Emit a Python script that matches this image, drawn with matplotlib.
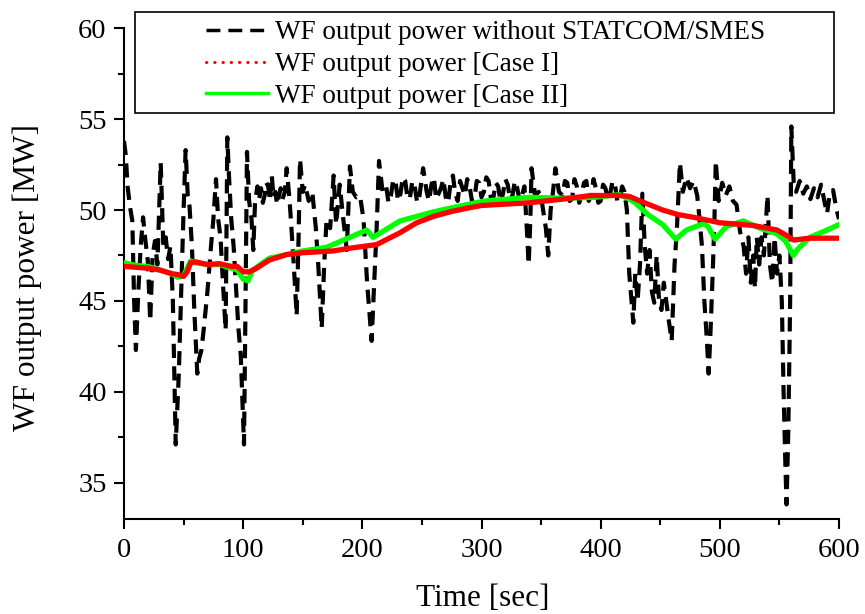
import numpy as np
import matplotlib
matplotlib.use("Agg")
import matplotlib.pyplot as plt
from matplotlib.lines import Line2D
from matplotlib.patches import Rectangle
from matplotlib.ticker import MultipleLocator

plt.rcParams['font.family'] = 'serif'
plt.rcParams['font.serif'] = ['Liberation Serif', 'DejaVu Serif']

# WF output power without STATCOM/SMES
base_t = [0, 1.5, 3, 5, 7, 8.5, 10, 12, 14, 16, 18, 20, 22, 24, 26, 28, 30.8, 33, 35, 37,
          39, 41, 43.4, 46, 48, 50, 51.7, 53.5, 55, 57, 59, 61.5, 63, 65, 67, 70, 73, 75,
          77.2, 79, 81, 83, 85.3, 86.7, 88, 90, 92, 94, 96, 98, 100.7, 102, 103.2, 105,
          107, 108.5, 110, 112, 113.5, 115, 116.5, 118, 119.5, 121, 122.5, 124, 125.5, 127,
          128.5, 130, 131.5, 133, 135, 136.5, 139, 142,
          144.9, 146.5, 147.7, 150, 152, 155, 158, 161, 163, 165.9, 168, 170, 173, 175.9,
          178, 181, 184, 187, 189.6, 192, 195, 198, 201, 204, 207.8, 210, 212, 214, 217,
          220, 222, 224, 226, 228, 230, 232, 234, 236, 238, 240, 242, 244, 246, 248, 251,
          254, 256, 258, 260, 262, 264, 266, 268, 270, 272, 274, 276, 278, 280, 282, 284,
          286, 288, 290, 292, 294, 296, 298, 300, 302, 304, 306, 308, 310, 312, 314, 316,
          318, 320, 322, 324, 326, 328, 330, 332, 334, 336, 338,
          339.6, 341, 342, 345, 348, 351, 354, 356, 358, 360, 362, 365, 368, 370, 372, 374,
          376, 378, 380, 382, 384, 386, 388, 390, 392, 394, 396, 398, 400, 402, 404, 406,
          408, 410, 412, 414, 416, 418, 420, 422, 424, 427.4, 429, 431, 433,
          435, 437, 439, 441, 443, 445, 447, 449, 451, 453, 455, 457, 459.6, 462, 464,
          466.5, 469, 472, 475, 478, 481, 483, 485, 487, 489, 490.6, 492, 494, 495.5,
          496.6, 499, 502, 505, 508, 511, 514, 517, 520, 522, 524, 526, 528, 529.5, 531,
          533, 535, 537, 540, 542, 544, 546, 548, 550, 552, 553.5, 555, 556, 557.5, 559,
          560, 562, 564, 567, 570, 573, 576, 579, 582, 585, 588, 590, 592, 595, 598, 600]
base_p = [53.8, 53.0, 51.3, 50.2, 49.4, 45.0, 42.3, 45.5, 48.0, 49.6, 48.3, 47.2, 43.9, 47.5,
          48.3, 47.0, 52.6, 48.0, 48.5, 47.3, 48.0, 45.0, 37.1, 41.0, 45.5, 50.0, 53.3, 50.8,
          50.2, 48.0, 44.5, 41.0, 41.8, 42.3, 43.5, 45.5, 48.0, 49.5, 51.7, 49.5, 48.5, 46.0,
          43.4, 54.0, 52.0, 49.5, 48.0, 45.8, 43.5, 42.0, 37.1, 45.0, 53.2, 50.5, 49.5, 47.8,
          50.5, 51.3, 50.6, 51.2, 50.4, 50.8, 51.5, 51.3, 50.5, 51.9, 50.7, 51.0, 50.3, 50.8,
          51.2, 50.6, 51.0, 52.3, 50.5, 47.5, 44.2,
          48.5, 52.8, 51.0, 51.4, 50.5, 51.0, 49.0, 47.0, 43.5, 47.0, 49.5, 49.0, 51.9, 49.2,
          51.4, 49.5, 47.8, 52.4, 51.0, 50.7, 50.8, 49.5, 46.0, 42.8, 46.0, 49.0, 52.7, 51.0,
          51.3, 50.4, 50.8, 51.7, 51.5, 50.5, 50.9, 51.8, 51.6, 50.6, 50.7, 51.6, 51.3, 50.4,
          50.8, 52.3, 51.0, 50.5, 51.4, 51.8, 50.6, 50.9, 51.2, 51.7, 50.7, 50.4, 51.5, 51.9,
          50.9, 50.5, 51.6, 51.2, 50.8, 51.7, 51.3, 50.5, 50.6, 51.6, 51.5, 50.7, 51.0, 51.8,
          51.6, 50.6, 50.7, 51.5, 51.3, 50.4, 50.9, 51.7, 51.4, 50.6, 50.8, 51.6, 51.2, 50.5,
          50.8, 51.3, 49.0, 47.0, 49.5, 52.3, 50.8, 51.0, 50.3, 49.0, 47.5, 50.0, 51.0,
          52.3, 51.0, 50.8, 51.6, 51.5, 50.5, 50.6, 51.7, 51.3, 50.4, 50.9, 51.5, 51.6, 50.5,
          50.8, 51.7, 51.2, 50.4, 50.5, 51.4, 51.2, 50.6, 50.9, 51.6, 51.4, 50.5, 50.6, 51.3,
          51.0, 50.0, 46.5, 43.8, 46.5, 45.0, 47.0, 50.9, 48.0, 46.5, 47.8, 45.5, 44.9,
          47.5, 45.0, 44.5, 46.0, 45.0, 44.0, 42.8, 47.0, 49.0, 52.6, 51.0, 51.8, 51.2, 51.6,
          50.8, 49.5, 48.0, 45.0, 43.0, 41.0, 43.0, 46.5, 49.5, 52.7, 50.5, 51.5, 50.8, 51.3,
          50.5, 50.3, 48.8, 48.0, 46.5, 48.5, 46.0, 47.5, 45.7, 48.5, 47.0, 48.5, 47.5, 50.8,
          47.0, 46.0, 48.5, 46.5, 47.5, 45.0, 40.0, 36.0, 33.8, 38.0, 45.0, 54.6, 51.5, 51.0,
          51.6, 50.9, 51.3, 50.6, 51.2, 50.7, 51.4, 50.4, 49.8, 50.8, 51.1, 50.0, 49.5]

# Case I
case1_t = [0, 10, 20, 30, 40, 45, 50, 53, 56, 60, 70, 80, 90, 95, 100, 105, 110, 122, 136.5,
           150, 175.6, 189.6, 212, 231.6, 245.6, 259.6, 273.6, 287.6, 300, 340, 368, 392,
           416, 424, 433, 452, 465, 478, 500, 528, 548, 556, 562, 575, 600]
case1_p = [46.9, 46.85, 46.8, 46.7, 46.5, 46.45, 46.35, 46.6, 47.1, 47.15, 47.0, 47.05, 46.9,
           46.9, 46.6, 46.6, 46.75, 47.25, 47.55, 47.65, 47.75, 47.9, 48.1, 48.75, 49.3,
           49.65, 49.9, 50.1, 50.25, 50.4, 50.6, 50.8, 50.8, 50.75, 50.5, 50.0, 49.75, 49.6,
           49.3, 49.15, 48.9, 48.6, 48.35, 48.45, 48.45]

# Case II
case2_t = [0, 10, 20, 30, 40, 45, 50, 53, 56, 60, 70, 80, 90, 95, 100, 104, 108, 122, 136.5,
           150, 170, 189.6, 203.6, 209, 231.6, 259.6, 287.6, 303, 340, 368, 395, 416, 424,
           429, 439.6, 452, 463, 472, 486, 490, 496, 505.6, 519.6, 533.6, 547.6, 555, 561.6,
           566, 575.6, 590, 600]
case2_p = [47.1, 46.95, 46.9, 46.7, 46.5, 46.3, 46.4, 46.8, 47.2, 47.1, 47.0, 47.0, 46.8,
           46.7, 46.2, 46.1, 46.7, 47.35, 47.55, 47.75, 47.95, 48.5, 48.9, 48.5, 49.4, 49.9,
           50.3, 50.5, 50.7, 50.65, 50.7, 50.85, 50.6, 50.4, 49.75, 49.2, 48.4, 48.9, 49.25,
           49.1, 48.4, 49.1, 49.4, 49.0, 48.7, 48.3, 47.5, 47.9, 48.5, 48.9, 49.2]

labels = ["WF output power without STATCOM/SMES",
          "WF output power [Case I]",
          "WF output power [Case II]"]

fig = plt.figure(figsize=(8.65, 6.14), dpi=100)
ax = fig.add_axes([124 / 865, 95 / 614, 715 / 865, 490.7 / 614])

ax.plot(base_t, base_p, color='black', lw=3.0, dashes=(3.4, 2.0), zorder=2)
ax.plot(case2_t, case2_p, color='#00ff00', lw=3.8, zorder=3)
ax.plot(case1_t, case1_p, color='#ff0000', lw=3.8, zorder=4)

ax.set_xlim(0, 600)
ax.set_ylim(33, 60)
ax.xaxis.set_major_locator(MultipleLocator(100))
ax.xaxis.set_minor_locator(MultipleLocator(50))
ax.yaxis.set_major_locator(MultipleLocator(5))
ax.yaxis.set_minor_locator(MultipleLocator(2.5))
for s in ['top', 'right']:
    ax.spines[s].set_visible(False)
for s in ['left', 'bottom']:
    ax.spines[s].set_linewidth(1.5)
ax.tick_params(which='major', direction='out', length=7.5, width=1.5, labelsize=20.5, pad=5)
ax.tick_params(which='minor', direction='out', length=4.3, width=1.5)
ax.tick_params(axis='x', which='major', pad=6)

ax.set_xlabel("Time [sec]", fontsize=22.5)
ax.set_ylabel("WF output power [MW]", fontsize=22.5)
ax.xaxis.set_label_coords(0.502, -0.161)
ax.xaxis.label.set_va('center')
ax.yaxis.set_label_coords(-0.1357, 0.493)
ax.yaxis.label.set_va('center')

# legend: own frame, content centred inside it
fig.add_artist(Rectangle((135 / 865, 1 - 113 / 614), 699 / 865, 101 / 614,
                         transform=fig.transFigure, fill=False, ec='black', lw=1.2, zorder=10))
handles = [Line2D([], [], color='black', lw=2.5, dashes=(4, 2.3)),
           Line2D([], [], color='#ff0000', lw=2.2, ls=(0, (0.1, 2.6)), dash_capstyle='round'),
           Line2D([], [], color='#00ff00', lw=2.5)]
fig.legend(handles, labels, loc='center left', bbox_to_anchor=(206 / 865, 1 - 64.5 / 614),
           frameon=False, fontsize=19.5, borderpad=0, handlelength=2.3, handletextpad=0.26,
           labelspacing=0.25, borderaxespad=0)

fig.savefig("out.png", dpi=100)
